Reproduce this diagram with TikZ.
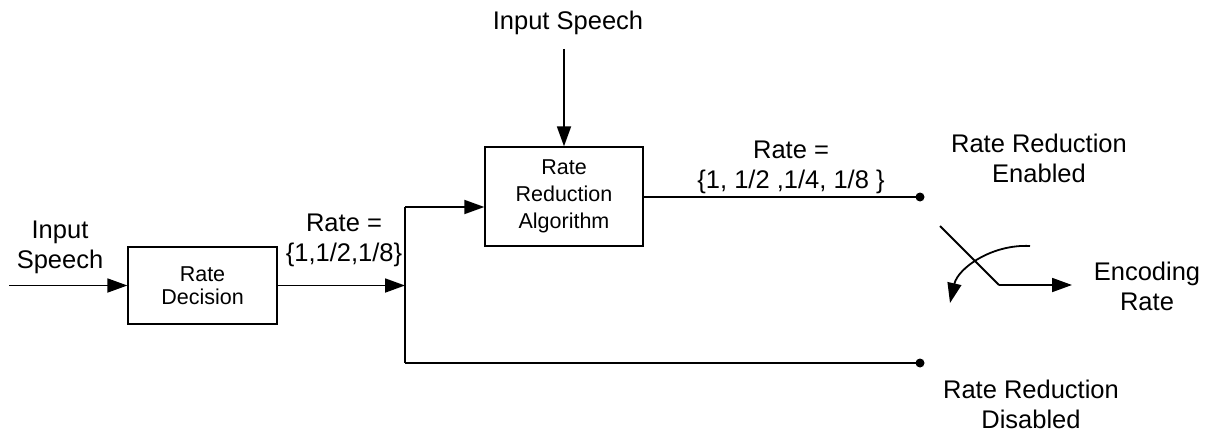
\documentclass[tikz,border=0pt]{standalone}
\usepackage{fontspec}
\setmainfont{Liberation Sans}
\usetikzlibrary{arrows.meta}
\begin{document}
\begin{tikzpicture}[x=1pt,y=-1pt,
  wire/.style={line width=1.8pt, draw=black},
  arr/.style={wire, -{Triangle[length=20pt,width=14pt]}},
  blockbox/.style={draw=black, line width=1.3pt, minimum width=149pt, minimum height=77pt, inner sep=0pt},
  biglabel/.style={align=center, inner sep=0pt, font=\fontsize{25.5}{30}\selectfont},
  dotnode/.style={circle, fill=black, inner sep=0pt, minimum size=9pt}
]
\useasboundingbox (0,0) rectangle (1212,433);

% blocks
\node[blockbox, align=center, font=\fontsize{21.5}{23.5}\selectfont] (rd) at (202.5,285.5) {Rate\\Decision};
\node[blockbox, minimum width=158pt, minimum height=99pt, align=center, font=\fontsize{21.5}{27}\selectfont] (rra) at (564,196.5) {Rate\\Reduction\\Algorithm};

% labels
\node[biglabel] (inL) at (60,247) {Input\\Speech};
\node[biglabel] (inT) at (568,23) {Input Speech};
\node[biglabel] (r1) at (344,240) {Rate =\\\{1,1/2,1/8\}};
\node[biglabel] (r2) at (791,167) {Rate =\\\{1, 1/2 ,1/4, 1/8 \}};
\node[biglabel] (en) at (1039,158) {Rate Reduction\\Enabled};
\node[biglabel] (dis) at (1031,404) {Rate Reduction\\Disabled};
\node[biglabel] (enc) at (1147,286) {Encoding\\Rate};

% coordinates
\coordinate (s0) at (9,285.5);
\coordinate (vj) at (405,285.5);
\coordinate (vt) at (405,207);
\coordinate (vb) at (405,363);
\coordinate (tin) at (564,49);
\node[dotnode] (d1) at (920,197) {};
\node[dotnode] (d2) at (920,363) {};
\coordinate (sw1) at (940,226);
\coordinate (sw2) at (999,285);
\coordinate (swo) at (1072,285);
\coordinate (c1) at (1030,246);
\coordinate (c2) at (950,303);

% connectors
\draw[arr] (s0) -- (rd.west);
\draw[arr] (rd.east) -- (vj);
\draw[wire] (vt) -- (vb);
\draw[arr] (vt) -- (rra.west |- vt);
\draw[arr] (tin) -- (rra.north);
\draw[wire] (rra.east |- d1) -- (d1.center);
\draw[wire] (vb) -- (d2.center);
\draw[wire] (sw1) -- (sw2);
\draw[arr] (sw2) -- (swo);
\draw[arr] (c1) .. controls (992,244) and (958,268) .. (c2);
\end{tikzpicture}
\end{document}
